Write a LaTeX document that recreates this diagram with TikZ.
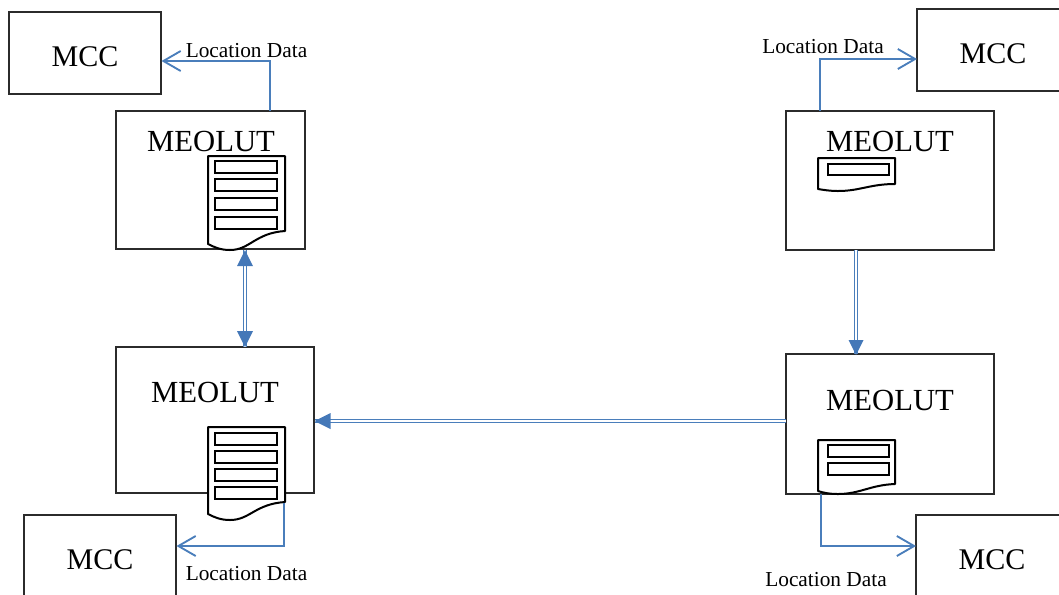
\documentclass[tikz,border=0pt]{standalone}
\usepackage{fontspec}
\setmainfont{Liberation Serif}
\usetikzlibrary{arrows.meta}
\definecolor{linkblue}{HTML}{4A7EBB}
\definecolor{headblue}{HTML}{4478B8}
\definecolor{boxline}{HTML}{2B2B2B}
\tikzset{
  box/.style={draw=boxline,line width=.9pt,fill=white,inner sep=0,outer sep=0,anchor=north west},
  big/.style={font=\fontsize{23}{23}\selectfont,inner sep=0,outer sep=0},
  mcclabel/.style={font=\fontsize{22.5}{23}\selectfont,inner sep=0,outer sep=0},
  small/.style={font=\fontsize{16}{18}\selectfont,inner sep=0,outer sep=0},
  doc/.style={draw=black,line width=1.5pt,fill=white,line join=round},
  slot/.style={draw=black,line width=1.5pt,fill=white},
  feed/.style={draw=linkblue,line width=1.5pt,-{Straight Barb[length=13pt,width=15pt,line width=1.4pt,arc=0]}},
  pipe/.style={draw=linkblue,line width=.9pt,double=white,double distance=1.5pt},
  solidhead/.style={fill=headblue,draw=none}
}
\begin{document}
\begin{tikzpicture}[x=.75pt,y=-.75pt]
\useasboundingbox (0,0) rectangle (1059,594);
\clip (0,0) rectangle (1059,594);
% boxes
\node[box,minimum width=114pt,minimum height=61.5pt] (c1) at (9,12) {};
\node[box,minimum width=141.75pt,minimum height=103.5pt] (m1) at (116,111) {};
\node[box,minimum width=148.5pt,minimum height=109.5pt] (m2) at (116,347) {};
\node[box,minimum width=114pt,minimum height=61.5pt] (c2) at (24,515) {};
\node[box,minimum width=114pt,minimum height=61.5pt] (c3) at (917,9) {};
\node[box,minimum width=156pt,minimum height=104.25pt] (m3) at (786,111) {};
\node[box,minimum width=156pt,minimum height=105pt] (m4) at (786,354) {};
\node[box,minimum width=114pt,minimum height=61.5pt] (c4) at (916,515) {};
% labels
\node[mcclabel] (tc1) at (85,57) {MCC};
\node[big] (tm1) at (211,141) {MEOLUT};
\node[big] (tm2) at (215,392) {MEOLUT};
\node[mcclabel] (tc2) at (100,560) {MCC};
\node[mcclabel] (tc3) at (993,54) {MCC};
\node[big] (tm3) at (890,141) {MEOLUT};
\node[big] (tm4) at (890,400) {MEOLUT};
\node[mcclabel] (tc4) at (992,560) {MCC};
\node[small] (l1) at (246.5,51) {Location Data};
\node[small] (l2) at (246.5,574) {Location Data};
\node[small] (l3) at (823,47) {Location Data};
\node[small] (l4) at (826,580) {Location Data};
% documents
\draw[doc] (208,156) -- (285,156) -- (285,231) .. controls (255,233) and (250,250) .. (230,250) .. controls (220,250) and (214,247) .. (208,244) -- cycle;
\foreach \y in {161,179,198,217} \draw[slot] (215,\y) rectangle (277,\y+12);
\draw[doc] (208,427) -- (285,427) -- (285,502) .. controls (255,504) and (250,520) .. (230,520) .. controls (220,520) and (214,517) .. (208,514) -- cycle;
\foreach \y in {433,451,469,487} \draw[slot] (215,\y) rectangle (277,\y+12);
\draw[doc] (818,158) -- (895,158) -- (895,184) .. controls (870,184) and (860,191) .. (838,191) .. controls (830,191) and (824,190) .. (818,189) -- cycle;
\draw[slot] (828,164) rectangle (889,175);
\draw[doc] (818,440) -- (895,440) -- (895,484) .. controls (870,485) and (860,494) .. (838,494) .. controls (830,494) and (824,493) .. (818,491) -- cycle;
\foreach \y in {445,463} \draw[slot] (828,\y) rectangle (889,\y+12);
% connector anchors
\coordinate (a1) at (270,111); \coordinate (b1) at (161.5,61);
\coordinate (a2) at (284,503); \coordinate (b2) at (176.5,546);
\coordinate (a3) at (820,111); \coordinate (b3) at (917,59);
\coordinate (a4) at (821,494); \coordinate (b4) at (916,546);
\coordinate (p1) at (245,250); \coordinate (p2) at (245,347);
\coordinate (p3) at (856,250); \coordinate (p4) at (856,354);
\coordinate (p5) at (786,421); \coordinate (p6) at (314.5,421);
% connectors
\draw[feed] (a1) |- (b1);
\draw[feed] (a2) |- (b2);
\draw[feed] (a3) |- (b3);
\draw[feed] (a4) |- (b4);
\draw[pipe] (p1) -- (p2);
\draw[pipe] (p3) -- (p4);
\draw[pipe] (p5) -- (p6);
\fill[solidhead] (p1) -- ++(-8,16) -- ++(16,0) -- cycle;
\fill[solidhead] (p2) -- ++(-8,-16) -- ++(16,0) -- cycle;
\fill[solidhead] (856,355) -- ++(-7.5,-15) -- ++(15,0) -- cycle;
\fill[solidhead] (p6) -- ++(16,-8) -- ++(0,16) -- cycle;
\end{tikzpicture}
\end{document}
